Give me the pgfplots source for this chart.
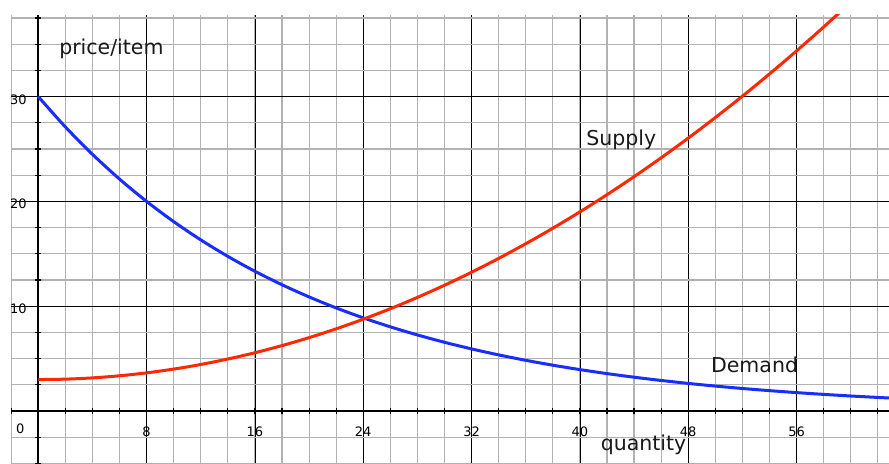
\documentclass[border=0pt]{standalone}
\usepackage{fontspec}
\setmainfont{DejaVu Sans}
\usepackage{pgfplots}
\pgfplotsset{compat=1.18}
\definecolor{demandblue}{RGB}{25,45,255}
\definecolor{supplyred}{RGB}{255,40,0}
\definecolor{minorgray}{RGB}{178,178,178}
\begin{document}
\begin{tikzpicture}
\begin{axis}[
  scale only axis,
  width=877.8pt, height=448.4pt,
  xmin=-2, xmax=62.83, ymin=-5, ymax=37.79,
  axis lines=middle,
  axis line style={-, line width=1.8pt, black},
  every inner x axis line/.append style={-},
  every inner y axis line/.append style={-},
  xtick={8,16,24,32,40,48,56},
  minor xtick={-2,0,2,4,6,8,10,12,14,16,18,20,22,24,26,28,30,32,34,36,38,40,42,44,46,48,50,52,54,56,58,60,62},
  ytick={10,20,30},
  minor ytick={-5,-2.5,0,2.5,5,7.5,10,12.5,15,17.5,20,22.5,25,27.5,30,32.5,35,37.5},
  grid=both,
  major grid style={black, line width=0.7pt},
  minor grid style={minorgray, line width=1.1pt},
  tick align=center,
  major tick length=6pt, minor tick length=6pt,
  tick style={black, line width=1.1pt},
  /pgf/number format/assume math mode=true,
  tick label style={font=\fontsize{13}{15}\selectfont, inner sep=0pt},
  xticklabel style={anchor=base, yshift=-22.3pt},
  yticklabel style={anchor=base east, xshift=-8.5pt, yshift=-7.5pt},
  clip=true,
]
\addplot[demandblue, line width=3pt, smooth] coordinates {
 (0,30) (2,27.108) (4,24.495) (6,22.134) (8,20) (10,18.072) (12,16.330)
 (14,14.756) (16,13.333) (18,12.048) (20,10.887) (22,9.837) (24,8.889)
 (26,8.032) (28,7.258) (30,6.558) (32,5.926) (34,5.355) (36,4.838)
 (38,4.372) (40,3.951) (42,3.570) (44,3.226) (46,2.915) (48,2.634)
 (50,2.380) (52,2.150) (54,1.943) (56,1.756) (58,1.586) (60,1.433)
 (62,1.295) (63,1.232)
};
\addplot[supplyred, line width=3pt, smooth] coordinates {
 (0,3) (2,3.04) (4,3.16) (6,3.36) (8,3.64) (10,4) (12,4.44) (14,4.96)
 (16,5.56) (18,6.24) (20,7) (22,7.84) (24,8.76) (26,9.76) (28,10.84)
 (30,12) (32,13.24) (34,14.56) (36,15.96) (38,17.44) (40,19) (42,20.64)
 (44,22.36) (46,24.16) (48,26.04) (50,28) (52,30.04) (54,32.16)
 (56,34.36) (58,36.64) (60,39)
};
\node[anchor=base, inner sep=0pt, font=\fontsize{13}{15}\selectfont] at (axis cs:-1.33,0) [yshift=-22.3pt] {0};
\node[anchor=base, inner sep=0pt, font=\fontsize{20.5}{24}\selectfont, text=black!90] at (axis cs:5.4,34.0) {price/item};
\node[anchor=base, inner sep=0pt, font=\fontsize{20.5}{24}\selectfont, text=black!90] at (axis cs:44.7,-3.8) {quantity};
\node[anchor=base, inner sep=0pt, font=\fontsize{20.5}{24}\selectfont, text=black!90] at (axis cs:43.05,25.3) {Supply};
\node[anchor=base, inner sep=0pt, font=\fontsize{20.5}{24}\selectfont, text=black!90] at (axis cs:52.9,3.72) {Demand};
\end{axis}
\pgfresetboundingbox
\path ([xshift=-11.2pt]current axis.south west) rectangle ([yshift=15pt]current axis.north east);
\end{tikzpicture}
\end{document}
